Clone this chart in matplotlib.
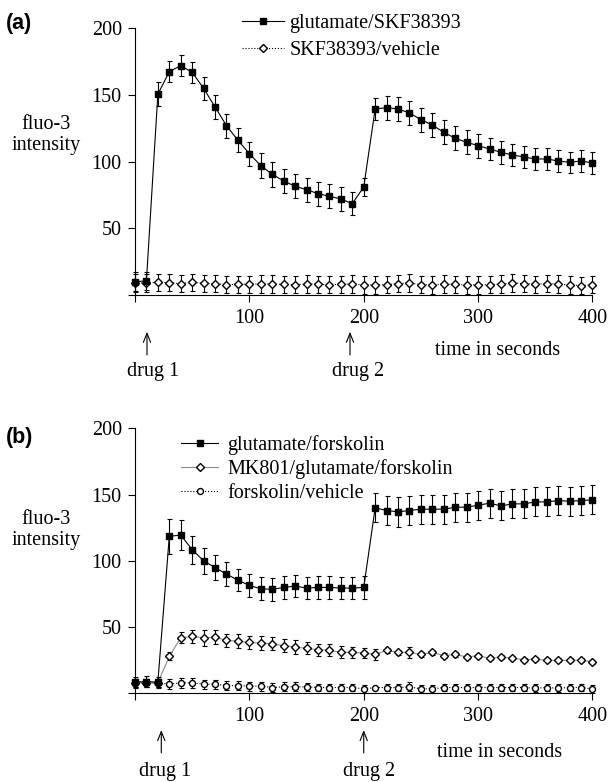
import matplotlib
matplotlib.use('Agg')
import matplotlib.pyplot as plt

plt.rcParams['font.family'] = ['Liberation Serif', 'DejaVu Serif']
plt.rcParams['font.size'] = 14.5

# time points, seconds
time_s = list(range(0, 401, 10))

# panel (a)
glu_skf = [10, 10.5, 150.5, 167.5, 172, 167, 155, 141, 127, 116,
           106, 97, 90.5, 85.5, 81.5, 79, 76, 74, 72, 68.5,
           81, 139.5, 140.5, 139.5, 136.5, 131.5, 127.5, 122, 117.5, 114.5,
           112, 109.5, 107, 105, 103.5, 102, 102, 100.5, 99.5, 100.5, 99]
glu_skf_err = [7, 7, 9, 8, 8, 8, 8.5, 9, 9, 9,
               9, 9.5, 9.5, 9, 9, 9, 9, 9, 9, 8.5,
               7, 8.5, 9, 9, 9, 9, 9, 9, 9, 9,
               9, 8.5, 8.5, 8.5, 8, 8, 8, 8, 8, 8, 8]
skf_veh = [9, 9, 9.5, 9.2, 8.5, 9.5, 8.7, 8.5, 7.7, 8,
           8, 8.2, 8.2, 8, 7.7, 8.2, 8, 7.7, 8, 8.2,
           7.5, 7.5, 7.7, 8.5, 9, 7.7, 7.5, 8.2, 8, 7.5,
           7.5, 7.7, 8.2, 9, 8.5, 8, 8.5, 8.2, 7.5, 7, 7.7]
skf_veh_err = [6.5] * 41

# panel (b)
glu_fsk = [8.5, 9, 8.5, 118.5, 119.5, 108.5, 100, 95, 90, 85.5,
           81.5, 79, 78.5, 80, 81, 79.5, 80, 80, 79.5, 79.5,
           80, 140, 138, 137, 138, 139, 139, 139, 140.5, 140.5,
           142, 143.5, 141.5, 143, 143, 144.5, 144.5, 145.5, 145, 145.5, 146]
glu_fsk_err = [4, 4, 4, 13, 11, 10.5, 10, 9.5, 9, 8.5,
               8.5, 8.5, 8.5, 8.5, 8.5, 8.5, 8.5, 8.5, 8.5, 8.5,
               8.5, 11, 11, 11.5, 11, 11, 11, 11, 11, 11,
               11, 11, 11, 11, 11, 11, 11, 11, 11, 11, 11]
mk801 = [8, 8, 8, 28, 42, 43, 42, 42.5, 40, 39.5,
         38.5, 38, 37.5, 36, 35, 34, 33, 32.5, 31, 31,
         30.5, 29.5, 32.5, 31, 31, 29.5, 31, 28.5, 29.5, 27.5,
         28.5, 26.5, 27.5, 26.5, 25.5, 26, 25, 25, 25, 25, 24]
mk801_err = [3, 3, 3, 3, 4, 5, 6, 5.5, 5, 5,
             5, 5, 5, 5, 5, 4.5, 4.5, 4.5, 4.5, 4,
             4, 4, 2, 2, 4, 2, 2, 2, 2, 1.5,
             1.5, 1.5, 1.5, 1.5, 1.5, 1.5, 1.5, 1.5, 1.5, 1.5, 1.5]
fsk_veh = [8, 8, 8, 7, 8, 8, 7, 7, 6, 6,
           5.5, 5.5, 4.5, 5, 5, 5, 4.5, 4.5, 4.5, 4.5,
           3.5, 4.5, 4.5, 4.5, 5, 3.5, 3.5, 4.5, 4.5, 4.5,
           4.5, 4.5, 4.5, 4.5, 4.5, 4, 4.5, 4, 4.5, 4.5, 3.5]
fsk_veh_err = [3, 3, 3, 4, 4, 4, 3.5, 3.5, 3.5, 3.5,
               3.5, 3.5, 3.5, 3.5, 3.5, 3, 3, 3, 3, 3,
               3, 0.5, 3, 3, 3.5, 3, 3, 3, 3, 3,
               3, 3, 3, 3, 3, 3, 3, 3, 3, 3, 3]

xticks = [0, 100, 200, 300, 400]
xticklabels = ['', '100', '200', '300', '400']
yticks = [0, 50, 100, 150, 200]
yticklabels = ['', '50', '100', '150', '200']


def series(ax, y, err, marker, ls, color, mfc, ms, z):
    eb = ax.errorbar(time_s, y, yerr=err, fmt='none', ecolor='black',
                     elinewidth=0.8, capsize=1.8, capthick=0.8, zorder=z)
    for c in eb.lines[1]:
        c.set_clip_on(False)
    for c in eb.lines[2]:
        c.set_clip_on(False)
    line, = ax.plot(time_s, y, linestyle=ls, color=color, lw=0.8, marker=marker,
                    ms=ms, mfc=mfc, mec='black', mew=1.0, clip_on=False,
                    zorder=z + 0.5)
    return line


def style_axes(ax):
    ax.set_xlim(0, 400)
    ax.set_ylim(0, 200)
    for s in ['top', 'right']:
        ax.spines[s].set_visible(False)
    for s in ['left', 'bottom']:
        ax.spines[s].set_linewidth(0.8)
    ax.set_xticks(xticks)
    ax.set_xticklabels(xticklabels)
    ax.set_yticks(yticks)
    ax.set_yticklabels(yticklabels)
    ax.tick_params(direction='out', length=5, width=0.8, labelsize=14.5)
    ax.tick_params(axis='x', pad=5)
    ax.tick_params(axis='y', pad=4.5)


def arrow(ax, x, y0, y1):
    ax.annotate('', xy=(x, y0), xytext=(x, y1), xycoords=ax.get_xaxis_transform(),
                textcoords=ax.get_xaxis_transform(),
                arrowprops=dict(arrowstyle='->,head_length=0.45,head_width=0.18',
                                lw=0.8, color='black', shrinkA=0, shrinkB=0),
                annotation_clip=False)


fig = plt.figure(figsize=(6.08, 7.82), dpi=100)
ax_a = fig.add_axes([0.2220, 0.6228, 0.7525, 0.3410])
ax_b = fig.add_axes([0.2220, 0.1132, 0.7525, 0.3391])

# (a)
l_veh = series(ax_a, skf_veh, skf_veh_err, 'D', ':', 'black', 'white', 4.2, 2)
l_glu = series(ax_a, glu_skf, glu_skf_err, 's', '-', 'black', 'black', 4.7, 3)
style_axes(ax_a)
ax_a.legend([l_glu, l_veh], ['glutamate/SKF38393', 'SKF38393/vehicle'],
            loc='upper left', bbox_to_anchor=(242 / 608, 1 - 14 / 782),
            bbox_transform=fig.transFigure, frameon=False, borderpad=0,
            borderaxespad=0, handlelength=2.1, handletextpad=0.25,
            labelspacing=0.38, numpoints=1, fontsize=14.5)
arrow(ax_a, 10.5, -0.138, -0.225)
arrow(ax_a, 188, -0.138, -0.225)
ax_a.text(15.5, -0.288, 'drug 1', transform=ax_a.get_xaxis_transform(),
          ha='center', va='center')
ax_a.text(195, -0.288, 'drug 2', transform=ax_a.get_xaxis_transform(),
          ha='center', va='center')
ax_a.text(317, -0.21, 'time in seconds', transform=ax_a.get_xaxis_transform(),
          ha='center', va='center')

# (b)
l_fv = series(ax_b, fsk_veh, fsk_veh_err, 'o', ':', 'black', 'white', 4.3, 2)
l_mk = series(ax_b, mk801, mk801_err, 'D', '-', '#8a8a8a', 'white', 4.2, 2.2)
l_gf = series(ax_b, glu_fsk, glu_fsk_err, 's', '-', 'black', 'black', 4.7, 3)
style_axes(ax_b)
ax_b.legend([l_gf, l_mk, l_fv],
            ['glutamate/forskolin', 'MK801/glutamate/forskolin', 'forskolin/vehicle'],
            loc='upper left', bbox_to_anchor=(181 / 608, 1 - 435 / 782),
            bbox_transform=fig.transFigure, frameon=False, borderpad=0,
            borderaxespad=0, handlelength=1.85, handletextpad=0.45,
            labelspacing=0.22, numpoints=1, fontsize=14.5)
arrow(ax_b, 23, -0.138, -0.224)
arrow(ax_b, 200, -0.138, -0.224)
ax_b.text(26, -0.295, 'drug 1', transform=ax_b.get_xaxis_transform(),
          ha='center', va='center')
ax_b.text(204.5, -0.295, 'drug 2', transform=ax_b.get_xaxis_transform(),
          ha='center', va='center')
ax_b.text(319, -0.222, 'time in seconds', transform=ax_b.get_xaxis_transform(),
          ha='center', va='center')

# panel letters and y labels
fig.text(6 / 608, 1 - 24 / 782, '(a)', family=['Liberation Sans', 'DejaVu Sans'],
         fontweight='bold', fontsize=15.5, ha='left', va='center')
fig.text(6 / 608, 1 - 437 / 782, '(b)', family=['Liberation Sans', 'DejaVu Sans'],
         fontweight='bold', fontsize=15.5, ha='left', va='center')
fig.text(46 / 608, 1 - 135 / 782, 'fluo-3\nintensity', ha='center', va='center',
         linespacing=1.15)
fig.text(46 / 608, 1 - 530 / 782, 'fluo-3\nintensity', ha='center', va='center',
         linespacing=1.15)

fig.savefig('out.png', dpi=100)
